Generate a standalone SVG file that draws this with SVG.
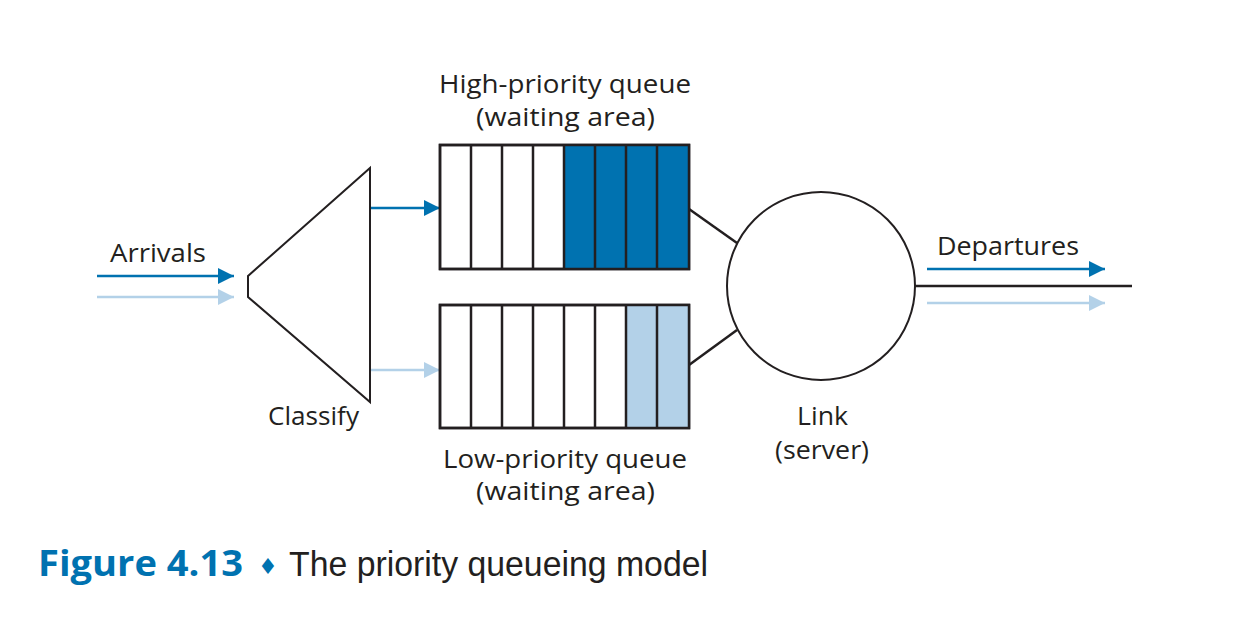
<svg xmlns="http://www.w3.org/2000/svg" width="1239" height="639" viewBox="0 0 1239 639">
<style>
.t{font-family:"Open Sans","Liberation Sans",sans-serif;font-size:25px;fill:#231f20}
.ln{stroke:#231f20;stroke-width:2;fill:none}
.q{stroke:#231f20;stroke-width:2.5;fill:#fff}
.dk{stroke:#0072b0;stroke-width:2.5}
.lt{stroke:#b3d1e8;stroke-width:2.5}
</style>
<defs>
<marker id="ad" markerUnits="userSpaceOnUse" markerWidth="16" markerHeight="16" refX="16" refY="8" orient="auto"><path d="M0,0L16,8L0,16Z" fill="#0072b0"/></marker>
<marker id="al" markerUnits="userSpaceOnUse" markerWidth="16" markerHeight="16" refX="16" refY="8" orient="auto"><path d="M0,0L16,8L0,16Z" fill="#b3d1e8"/></marker>
</defs>
<rect width="1239" height="639" fill="#fff"/>
<g id="connectors">
<line class="dk" x1="97" y1="276" x2="234" y2="276" marker-end="url(#ad)"/>
<line class="lt" x1="97" y1="297" x2="234" y2="297" marker-end="url(#al)"/>
<line class="dk" x1="370" y1="208" x2="440" y2="208" marker-end="url(#ad)"/>
<line class="lt" x1="370" y1="370" x2="440" y2="370" marker-end="url(#al)"/>
<line class="ln" style="stroke-width:2.5" x1="689" y1="209" x2="737" y2="243"/>
<line class="ln" style="stroke-width:2.5" x1="689" y1="365" x2="737" y2="330"/>
<line class="ln" style="stroke-width:2.5" x1="915" y1="286" x2="1132" y2="286"/>
<line class="dk" x1="927" y1="269" x2="1105" y2="269" marker-end="url(#ad)"/>
<line class="lt" x1="927" y1="303" x2="1105" y2="303" marker-end="url(#al)"/>
</g>
<g id="arrivals"><text class="t" x="110" y="262" textLength="96" lengthAdjust="spacingAndGlyphs">Arrivals</text></g>
<g id="classify">
<path class="ln" d="M248,276L370,168L370,402L248,297Z"/>
<text class="t" x="268" y="425" textLength="91" lengthAdjust="spacingAndGlyphs">Classify</text>
</g>
<g id="high-queue">
<rect class="q" x="440" y="145" width="249" height="124"/>
<rect x="564" y="145" width="125" height="124" fill="#0072b0"/>
<g class="ln" style="stroke-width:2.5">
<rect x="440" y="145" width="249" height="124"/>
<line x1="471" y1="145" x2="471" y2="269"/><line x1="502" y1="145" x2="502" y2="269"/><line x1="533" y1="145" x2="533" y2="269"/><line x1="564" y1="145" x2="564" y2="269"/><line x1="595" y1="145" x2="595" y2="269"/><line x1="626" y1="145" x2="626" y2="269"/><line x1="657" y1="145" x2="657" y2="269"/>
</g>
<text class="t" x="439" y="93" textLength="252" lengthAdjust="spacingAndGlyphs">High-priority queue</text>
<text class="t" x="476" y="126" textLength="179" lengthAdjust="spacingAndGlyphs">(waiting area)</text>
</g>
<g id="low-queue">
<rect class="q" x="440" y="305" width="249" height="123"/>
<rect x="626" y="305" width="63" height="123" fill="#b3d1e8"/>
<g class="ln" style="stroke-width:2.5">
<rect x="440" y="305" width="249" height="123"/>
<line x1="471" y1="305" x2="471" y2="428"/><line x1="502" y1="305" x2="502" y2="428"/><line x1="533" y1="305" x2="533" y2="428"/><line x1="564" y1="305" x2="564" y2="428"/><line x1="595" y1="305" x2="595" y2="428"/><line x1="626" y1="305" x2="626" y2="428"/><line x1="657" y1="305" x2="657" y2="428"/>
</g>
<text class="t" x="443" y="468" textLength="244" lengthAdjust="spacingAndGlyphs">Low-priority queue</text>
<text class="t" x="476" y="500" textLength="179" lengthAdjust="spacingAndGlyphs">(waiting area)</text>
</g>
<g id="link">
<circle class="ln" cx="821" cy="286" r="94"/>
<text class="t" x="797" y="425" textLength="51" lengthAdjust="spacingAndGlyphs">Link</text>
<text class="t" x="775" y="459" textLength="94" lengthAdjust="spacingAndGlyphs">(server)</text>
</g>
<g id="departures"><text class="t" x="937" y="255" textLength="142" lengthAdjust="spacingAndGlyphs">Departures</text></g>
<g id="caption">
<text x="38" y="576" textLength="205" lengthAdjust="spacingAndGlyphs" style="font-family:'Open Sans','Liberation Sans',sans-serif;font-size:35px;font-weight:bold;fill:#0072b0">Figure 4.13</text>
<text x="258" y="574" style="font-family:'DejaVu Sans',sans-serif;font-size:22px;fill:#0072b0">♦</text>
<text x="289" y="576" textLength="419" lengthAdjust="spacingAndGlyphs" style="font-family:'Liberation Sans',sans-serif;font-size:35px;fill:#231f20">The priority queueing model</text>
</g>
</svg>
